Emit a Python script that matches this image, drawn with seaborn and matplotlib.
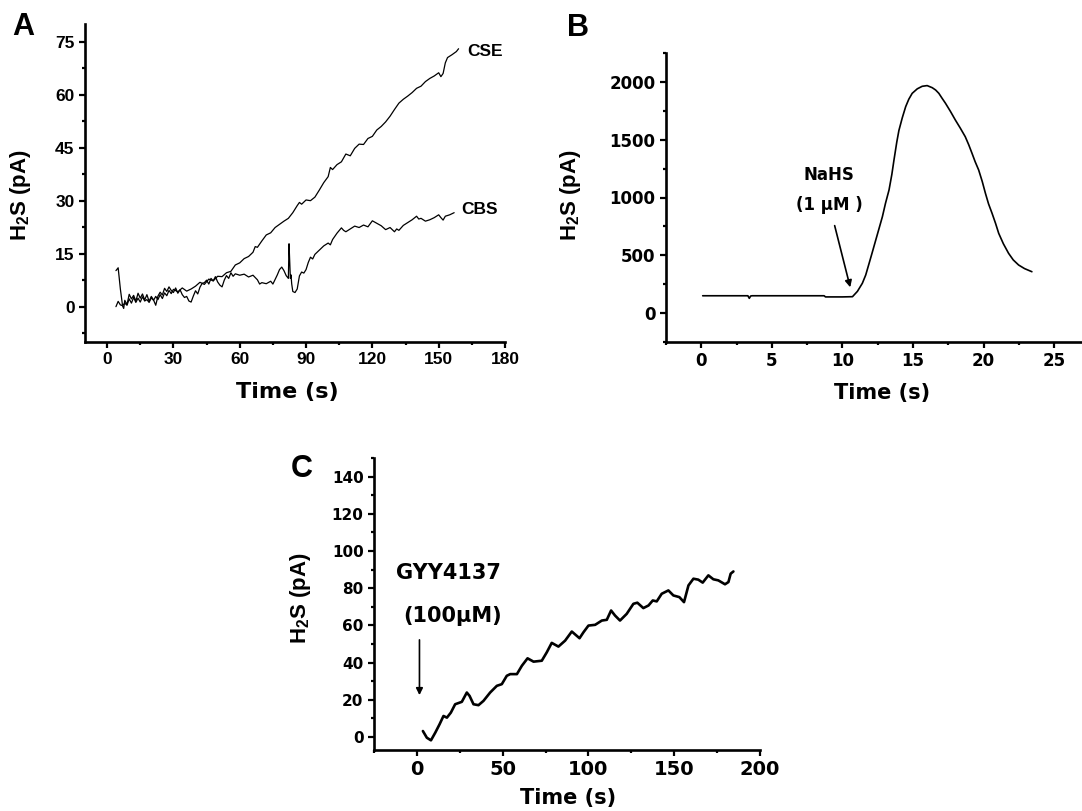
import numpy as np
import pandas as pd
import matplotlib
matplotlib.use("Agg")
import matplotlib.pyplot as plt
from matplotlib.ticker import MultipleLocator
import seaborn as sns

# ---------------- data ----------------
# Panel A: CSE trace
cse_t = [4, 5, 6, 7, 8, 9, 10, 11, 12, 13, 14, 15, 16, 17, 18, 19, 20, 21, 22, 23, 24, 25, 26, 27, 28, 29, 30,
         32, 34, 36, 38, 40, 42, 44, 46, 48, 50, 52, 54, 56, 58, 60, 62, 64, 66, 67, 68, 70, 72, 74, 76, 78, 80,
         82, 84, 86, 87, 88, 90, 92, 94, 96, 98, 100, 101, 102, 104, 106, 108, 110, 112, 114, 116, 118, 120,
         122, 124, 126, 128, 130, 132, 134, 136, 138, 140, 142, 144, 146, 148, 150, 151, 152, 153, 154, 156,
         158, 159]
cse_v = [0.0, 1.5, 0.5, 0.3, 1.0, 0.4, 2.2, 1.0, 2.6, 1.2, 2.4, 1.3, 2.8, 1.6, 2.0, 1.2, 2.5, 1.8, 2.9, 2.0,
         3.4, 2.3, 3.9, 3.1, 4.6, 3.7, 4.9,
         4.2, 5.3, 4.4, 5.0, 5.8, 6.9, 6.3, 7.8, 7.3, 8.6, 8.5, 9.6, 10.0, 11.8, 12.4, 13.6, 14.2, 15.4, 17.0,
         16.8, 18.6, 20.3, 20.9, 22.4, 23.3, 24.2,
         25.0, 26.6, 28.6, 29.5, 29.0, 30.2, 30.0, 31.0, 33.0, 35.1, 36.8, 39.4, 38.8, 40.2, 41.0, 43.2, 42.7,
         44.8, 46.0, 45.9, 47.6, 48.2,
         50.0, 51.0, 52.3, 53.9, 55.8, 57.6, 58.7, 59.6, 60.6, 61.8, 62.4, 63.7, 64.6, 65.3, 66.2, 65.1, 66.0,
         69.0, 70.5, 71.3, 72.2, 73.0]

# Panel A: CBS trace
cbs_t = [4, 5, 6, 7, 7.5, 8, 9, 10, 11, 12, 13, 14, 15, 16, 17, 18, 19, 20, 21, 22, 23, 24, 25, 26, 27, 28,
         29, 30, 31, 32, 33, 34, 35, 36, 37, 38, 39, 40, 41, 42, 43, 44, 45, 46, 47, 48, 49, 50, 51, 52, 53,
         54, 55, 56, 57, 58, 60, 62, 64, 66, 68, 69, 70, 72, 74, 75, 77, 78, 79, 80, 81, 82, 82.3, 82.6,
         82.9, 83.2, 83.5, 84, 85, 86, 87, 88, 89, 90, 91, 92, 93, 94, 96, 98, 100, 101, 102, 104, 106, 107,
         108, 110, 112, 114, 116, 118, 120, 122, 124, 126, 128, 130, 131, 132, 134, 136, 138, 140, 141, 142,
         144, 146, 148, 150, 151, 152, 153, 155, 157]
cbs_v = [10.2, 11.0, 5.0, 0.2, -0.5, 1.8, 0.6, 3.5, 2.2, 3.2, 1.6, 3.8, 2.4, 3.6, 1.9, 3.4, 1.5, 2.9, 1.9,
         0.4, 3.0, 4.1, 3.3, 5.2, 4.3, 5.6,
         4.6, 4.0, 5.3, 3.8, 4.8, 3.4, 2.6, 2.9, 1.6, 1.3, 3.0, 4.5, 3.6, 5.5, 6.6, 6.8, 7.5, 6.4, 8.0, 7.3,
         8.5, 7.0, 6.1, 5.6, 7.5,
         8.8, 8.0, 9.6, 8.6, 9.3, 8.9, 9.2, 8.4, 8.9, 7.6, 6.4, 6.8, 6.5, 7.2, 6.4, 9.0, 10.5, 11.2, 10.2,
         8.8, 8.0, 17.8, 13.0,
         8.0, 9.0, 6.5, 4.3, 4.0, 5.0, 8.7, 9.8, 9.5, 10.5, 12.5, 14.0, 13.5, 14.8, 16.0, 17.2, 18.0, 17.5,
         19.0, 20.8, 22.3, 21.6,
         21.2, 22.0, 22.8, 22.4, 23.1, 22.6, 24.3, 23.6, 22.9, 21.8, 22.4, 21.2, 22.0, 21.6, 23.0, 23.8,
         24.6, 25.6, 24.8, 25.0,
         24.2, 24.6, 25.2, 26.0, 25.2, 24.5, 25.6, 26.0, 26.6]

# Panel B: NaHS response
nahs_t = [0.1, 1, 2, 3, 3.3, 3.4, 3.5, 3.6, 5, 7, 8.7, 8.8, 10, 10.71, 11.06, 11.41, 11.65, 11.89, 12.1,
          12.36, 12.6, 12.83, 13.05, 13.3, 13.5, 13.65, 13.85, 14.0, 14.24, 14.48, 14.7, 14.94, 15.3, 15.65,
          16.0, 16.36, 16.6, 16.83, 17.05, 17.3, 17.65, 18.0, 18.35, 18.7, 18.95, 19.18, 19.4, 19.65, 19.9,
          20.13, 20.35, 20.6, 20.85, 21.07, 21.4, 21.77, 22.1, 22.48, 22.9, 23.42]
nahs_v = [150, 150, 150, 150, 150, 128, 148, 150, 150, 150, 150, 140, 140, 142, 188, 258, 330, 431, 520,
          632, 735, 834, 950, 1065, 1200, 1324, 1480, 1580, 1690, 1786, 1850, 1901, 1940, 1962,
          1968, 1950, 1930, 1901, 1860, 1815, 1745, 1670, 1600, 1526, 1455, 1382, 1310, 1238, 1140,
          1036, 945, 863, 775, 690, 600, 517, 460, 416, 385, 358]

# Panel C: GYY4137 response
gyy_t = [3.5, 5.8, 8.2, 10.7, 13.2, 15.5, 17.5, 19.8, 22.3, 26.2, 29.1, 30.7, 33.0, 35.9, 38.8, 42.7, 46.6,
         49.5, 52.4, 54.4, 58.3, 61.2, 64.5, 68.0, 72.8, 75.7, 78.6, 82.5, 86.4, 90.3, 94.8, 97.1, 100.0,
         103.9, 107.8, 110.7, 113.2, 115.5, 118.4, 122.3, 126.2, 128.5, 132.0, 135.0, 137.5, 139.8, 142.7,
         146.6, 149.5, 153.0, 155.7, 158.3, 161.2, 164.0, 166.6, 169.9, 172.8, 175.7, 179.6, 181.6, 182.9,
         184.5]
gyy_v = [3.2, -0.4, -1.8, 2.3, 6.8, 11.3, 10.4, 13.1, 17.6, 18.9, 23.9, 22.1, 17.6, 17.1, 19.4, 23.9, 27.5,
         28.4, 32.9, 33.8, 33.8, 38.3, 42.3, 40.5, 41.0, 45.5, 50.6, 48.6, 51.8, 56.7, 53.1, 56.3, 59.9,
         60.3, 62.6, 63.0, 68.0, 65.3, 62.6, 66.2, 71.6, 72.2, 69.3, 70.7, 73.4, 72.9, 77.0,
         78.8, 76.1, 75.2, 72.5, 81.5, 85.1, 84.6, 83.0, 86.9, 84.8, 84.2, 82.1, 83.3, 87.8,
         89.0]

# ---------------- style ----------------
sns.set_style("ticks")
plt.rcParams['font.family'] = ['Liberation Sans', 'DejaVu Sans']
plt.rcParams['mathtext.fontset'] = 'custom'
plt.rcParams['mathtext.rm'] = 'Liberation Sans:bold'
plt.rcParams['mathtext.bf'] = 'Liberation Sans:bold'
for key in ['text.color', 'axes.labelcolor', 'xtick.color', 'ytick.color', 'axes.edgecolor']:
    plt.rcParams[key] = 'black'
plt.rcParams['axes.linewidth'] = 1.9
plt.rcParams['xtick.major.width'] = 1.6
plt.rcParams['ytick.major.width'] = 1.6
plt.rcParams['xtick.minor.width'] = 1.6
plt.rcParams['ytick.minor.width'] = 1.6
plt.rcParams['xtick.major.size'] = 4
plt.rcParams['ytick.major.size'] = 4
plt.rcParams['xtick.minor.size'] = 2.5
plt.rcParams['ytick.minor.size'] = 2.5
plt.rcParams['xtick.direction'] = 'out'
plt.rcParams['ytick.direction'] = 'out'

W, H = 1082, 811
fig = plt.figure(figsize=(W / 100, H / 100), dpi=100)


def box(l, r, t, b):
    return [l / W, 1 - b / H, (r - l) / W, (b - t) / H]


axA = fig.add_axes(box(85, 505, 24, 342))
axB = fig.add_axes(box(666, 1081, 53, 342))
axC = fig.add_axes(box(374, 760, 458, 750))

ylab = r'$\mathbf{H_2S}$ (pA)'
wide = ['DejaVu Sans']

# ---- Panel A ----
sns.lineplot(x=cse_t, y=cse_v, ax=axA, color='black', lw=0.9, estimator=None, sort=False)
sns.lineplot(x=cbs_t, y=cbs_v, ax=axA, color='black', lw=0.9, estimator=None, sort=False)
axA.set_xlim(-10, 180)
axA.set_ylim(-10, 80)
axA.xaxis.set_major_locator(MultipleLocator(30))
axA.xaxis.set_minor_locator(MultipleLocator(15))
axA.yaxis.set_major_locator(MultipleLocator(15))
axA.yaxis.set_minor_locator(MultipleLocator(7.5))
for lab in axA.get_xticklabels() + axA.get_yticklabels():
    lab.set_fontsize(12.5)
    lab.set_fontweight('bold')
axA.text(163, 72.3, 'CSE', fontsize=12.5, fontweight='bold', va='center', ha='left')
axA.text(160, 27.5, 'CBS', fontsize=12.5, fontweight='bold', va='center', ha='left')
axA.set_xlabel('Time (s)', fontsize=16, fontweight='bold', family=wide)
axA.set_ylabel(ylab, fontsize=16, fontweight='bold')
axA.xaxis.set_label_coords(0.481, -0.125)
axA.yaxis.set_label_coords(-0.124, 0.462)

# ---- Panel B ----
sns.lineplot(x=nahs_t, y=nahs_v, ax=axB, color='black', lw=1.2, estimator=None, sort=False)
axB.set_xlim(-2.5, 26.9)
axB.set_ylim(-250, 2250)
axB.xaxis.set_major_locator(MultipleLocator(5))
axB.xaxis.set_minor_locator(MultipleLocator(2.5))
axB.yaxis.set_major_locator(MultipleLocator(500))
axB.yaxis.set_minor_locator(MultipleLocator(250))
for lab in axB.get_xticklabels() + axB.get_yticklabels():
    lab.set_fontsize(12)
    lab.set_fontweight('bold')
    lab.set_family(wide)
axB.text(9.06, 1195, 'NaHS', fontsize=12, fontweight='bold', family=wide, ha='center', va='center')
axB.text(9.06, 935, '(1 μM )', fontsize=12, fontweight='bold', family=wide, ha='center', va='center')
axB.annotate('', xy=(10.6, 200), xytext=(9.4, 780),
             arrowprops=dict(arrowstyle='-|>', color='black', lw=1.2, mutation_scale=10))
axB.set_xlabel('Time (s)', fontsize=15, fontweight='bold', family=wide)
axB.set_ylabel(ylab, fontsize=16, fontweight='bold')
axB.xaxis.set_label_coords(0.52, -0.142)
axB.yaxis.set_label_coords(-0.2, 0.509)

# ---- Panel C ----
sns.lineplot(x=gyy_t, y=gyy_v, ax=axC, color='black', lw=1.9, estimator=None, sort=False)
axC.set_xlim(-25, 200)
axC.set_ylim(-7, 150)
axC.xaxis.set_major_locator(MultipleLocator(50))
axC.xaxis.set_minor_locator(MultipleLocator(25))
axC.yaxis.set_major_locator(MultipleLocator(20))
axC.yaxis.set_minor_locator(MultipleLocator(10))
for lab in axC.get_yticklabels():
    lab.set_fontsize(11)
    lab.set_fontweight('bold')
    lab.set_family(wide)
for lab in axC.get_xticklabels():
    lab.set_fontsize(14)
    lab.set_fontweight('bold')
    lab.set_family(wide)
axC.text(18.2, 87.9, 'GYY4137', fontsize=15, fontweight='bold', family=wide, ha='center', va='center')
axC.text(20.6, 65.1, '(100μM)', fontsize=15, fontweight='bold', family=wide, ha='center', va='center')
axC.annotate('', xy=(1.5, 21.0), xytext=(1.5, 53.7),
             arrowprops=dict(arrowstyle='-|>', color='black', lw=1.2, mutation_scale=10))
axC.set_xlabel('Time (s)', fontsize=15, fontweight='bold', family=wide)
axC.set_ylabel(ylab, fontsize=16, fontweight='bold')
axC.xaxis.set_label_coords(0.503, -0.130)
axC.yaxis.set_label_coords(-0.157, 0.52)

for ax in (axA, axB, axC):
    sns.despine(ax=ax)
    ax.tick_params(which='both', colors='black')

# panel letters
fig.text(12 / W, 1 - 27 / H, 'A', fontsize=22, fontweight='bold', va='center', ha='left')
fig.text(567 / W, 1 - 28 / H, 'B', fontsize=22, fontweight='bold', va='center', ha='left')
fig.text(291 / W, 1 - 469 / H, 'C', fontsize=22, fontweight='bold', va='center', ha='left')

fig.savefig('out.png', dpi=100)
